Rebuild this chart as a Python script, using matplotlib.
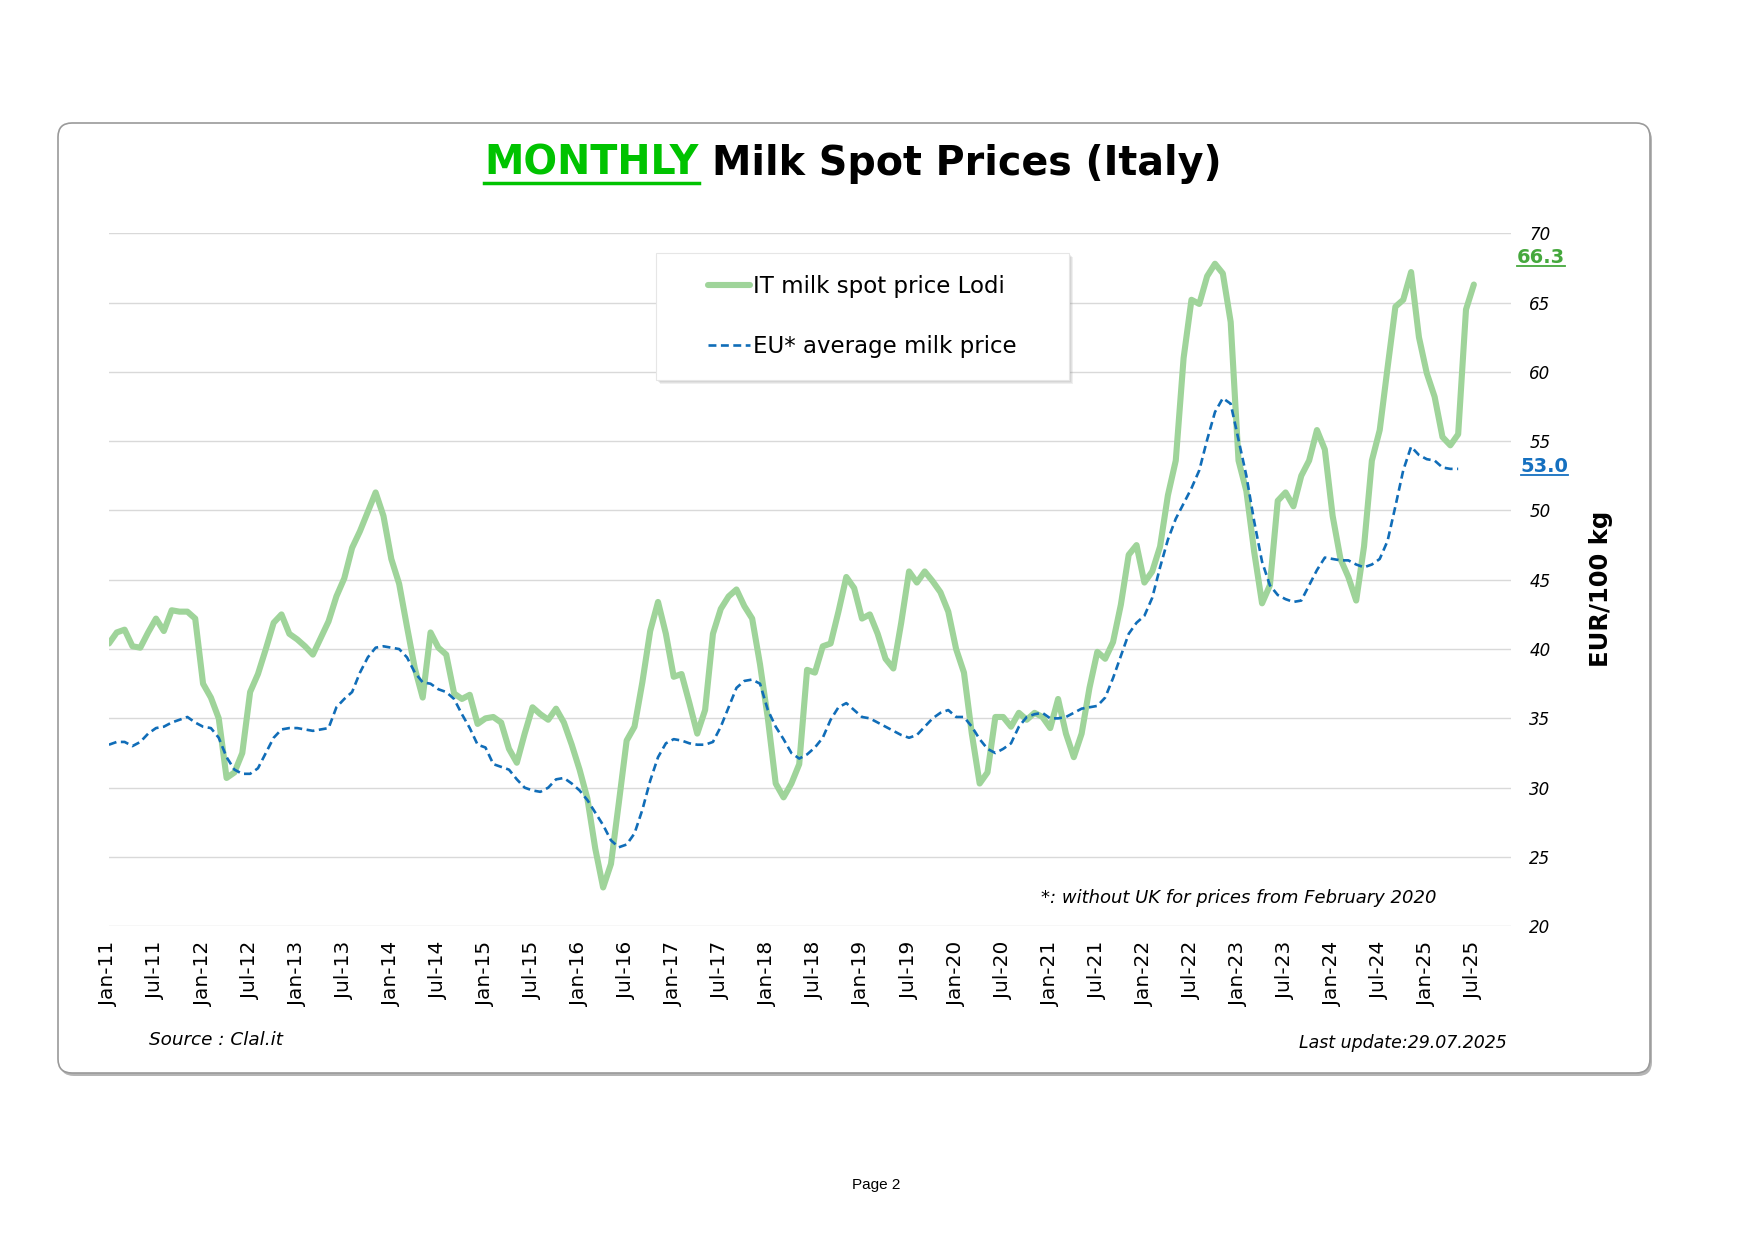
import numpy as np
import pandas as pd
import matplotlib
matplotlib.use('Agg')
import matplotlib.pyplot as plt
from matplotlib.patches import FancyBboxPatch, Rectangle
from matplotlib.lines import Line2D
from matplotlib.transforms import IdentityTransform

plt.rcParams['font.family'] = ['DejaVu Sans']

# Monthly prices, EUR/100 kg, starting Jan-2011
it_spot = [
    40.4, 41.2, 41.4, 40.2, 40.1, 41.2, 42.2, 41.3, 42.8, 42.7, 42.7, 42.2,  # 2011
    37.5, 36.5, 35.0, 30.7, 31.1, 32.5, 36.9, 38.2, 40.0, 41.9, 42.5, 41.1,  # 2012
    40.7, 40.2, 39.6, 40.8, 42.0, 43.8, 45.1, 47.3, 48.5, 49.9, 51.3, 49.6,  # 2013
    46.5, 44.7, 41.6, 38.6, 36.5, 41.2, 40.1, 39.6, 36.8, 36.4, 36.7, 34.6,  # 2014
    35.0, 35.1, 34.7, 32.8, 31.8, 33.9, 35.8, 35.3, 34.9, 35.7, 34.7, 33.1,  # 2015
    31.3, 29.2, 25.6, 22.8, 24.5, 28.9, 33.4, 34.4, 37.6, 41.3, 43.4, 41.1,  # 2016
    38.0, 38.2, 36.1, 33.9, 35.6, 41.1, 42.9, 43.8, 44.3, 43.1, 42.2, 38.9,  # 2017
    35.0, 30.3, 29.3, 30.3, 31.7, 38.5, 38.3, 40.2, 40.4, 42.7, 45.2, 44.4,  # 2018
    42.2, 42.5, 41.1, 39.3, 38.6, 41.9, 45.6, 44.8, 45.6, 44.9, 44.1, 42.7,  # 2019
    40.0, 38.3, 33.9, 30.3, 31.1, 35.1, 35.1, 34.4, 35.4, 34.9, 35.4, 35.1,  # 2020
    34.3, 36.4, 33.9, 32.2, 33.9, 37.2, 39.8, 39.3, 40.5, 43.2, 46.8, 47.5,  # 2021
    44.8, 45.6, 47.4, 51.1, 53.6, 61.0, 65.2, 64.9, 66.9, 67.8, 67.1, 63.6,  # 2022
    53.6, 51.4, 47.0, 43.3, 44.6, 50.7, 51.3, 50.3, 52.5, 53.6, 55.8, 54.4,  # 2023
    49.6, 46.5, 45.2, 43.5, 47.4, 53.6, 55.8, 60.3, 64.7, 65.2, 67.2, 62.5,  # 2024
    59.9, 58.2, 55.3, 54.7, 55.5, 64.5, 66.3,                                # 2025
]

eu_avg = [
    33.1, 33.3, 33.3, 33.0, 33.3, 33.9, 34.3, 34.4, 34.7, 34.9, 35.1, 34.7,  # 2011
    34.4, 34.3, 33.6, 32.2, 31.3, 31.0, 31.0, 31.4, 32.5, 33.6, 34.2, 34.3,  # 2012
    34.3, 34.2, 34.1, 34.2, 34.3, 35.8, 36.4, 36.9, 38.3, 39.4, 40.1, 40.2,  # 2013
    40.1, 40.0, 39.4, 38.3, 37.6, 37.5, 37.1, 36.9, 36.4, 35.3, 34.3, 33.1,  # 2014
    32.9, 31.7, 31.5, 31.3, 30.6, 30.0, 29.8, 29.7, 30.0, 30.6, 30.7, 30.3,  # 2015
    29.8, 29.1, 28.2, 27.3, 26.2, 25.7, 25.9, 26.7, 28.4, 30.5, 32.2, 33.2,  # 2016
    33.5, 33.4, 33.2, 33.1, 33.1, 33.3, 34.4, 35.8, 37.2, 37.7, 37.8, 37.5,  # 2017
    35.6, 34.4, 33.5, 32.5, 32.1, 32.4, 32.9, 33.6, 34.9, 35.8, 36.1, 35.6,  # 2018
    35.1, 35.0, 34.7, 34.4, 34.1, 33.8, 33.6, 33.8, 34.4, 35.0, 35.4, 35.6,  # 2019
    35.1, 35.1, 34.4, 33.5, 32.8, 32.5, 32.8, 33.2, 34.4, 35.1, 35.3, 35.4,  # 2020
    35.0, 35.0, 35.1, 35.4, 35.7, 35.8, 35.9, 36.5, 37.9, 39.5, 41.1, 41.9,  # 2021
    42.4, 43.7, 45.9, 47.9, 49.4, 50.5, 51.6, 52.9, 55.1, 57.1, 58.1, 57.7,  # 2022
    55.1, 52.5, 49.2, 46.3, 44.6, 43.9, 43.6, 43.4, 43.5, 44.6, 45.7, 46.6,  # 2023
    46.5, 46.4, 46.4, 46.1, 45.9, 46.1, 46.5, 47.8, 50.3, 52.9, 54.6, 54.0,  # 2024
    53.7, 53.6, 53.1, 53.0, 53.0,                                            # 2025
]

months = pd.period_range('2011-01', periods=len(it_spot), freq='M')
month_labels = [m.strftime('%b-%y') for m in months]
y_ticks = list(range(20, 71, 5))

GREEN = '#9fd49a'
BLUE = '#106db8'

fig = plt.figure(figsize=(17.54, 12.4), dpi=100)

# outer rounded frame with a little shadow
shadow = FancyBboxPatch((60, 164), 1592, 950, boxstyle='round,pad=0,rounding_size=14',
                        transform=IdentityTransform(), fc='#b5b5b5', ec='none', zorder=-3)
frame = FancyBboxPatch((58, 167), 1592, 950, boxstyle='round,pad=0,rounding_size=14',
                       transform=IdentityTransform(), fc='white', ec='#9a9a9a', lw=1.2, zorder=-2)
fig.add_artist(shadow)
fig.add_artist(frame)

ax = fig.add_axes([0.0621, 0.2530, 0.7992, 0.5589])
ax.set_facecolor('none')

x_it = np.arange(len(it_spot))
x_eu = np.arange(len(eu_avg))
ax.plot(x_it, it_spot, color=GREEN, lw=4.4, solid_capstyle='round', solid_joinstyle='round',
        label='IT milk spot price Lodi', zorder=3)
ax.plot(x_eu, eu_avg, color=BLUE, lw=1.9, linestyle=(0, (3, 1.7)),
        label='EU* average milk price', zorder=4)

ax.set_xlim(0, 178.7)
ax.set_ylim(20, 70)
ax.set_yticks(y_ticks)
ax.set_yticklabels([str(v) for v in y_ticks], fontstyle='italic', fontsize=12)
ax.yaxis.tick_right()
ax.tick_params(axis='y', length=0, pad=13.4)
ax.set_xticks(x_it[::6])
ax.set_xticklabels(month_labels[::6], rotation=90, fontsize=14.5)
ax.tick_params(axis='x', length=0, pad=11)
ax.grid(axis='y', color='#d9d9d9', lw=1)
ax.set_axisbelow(True)
for s in ax.spines.values():
    s.set_visible(False)

fig.text(0.9128, 0.525, 'EUR/100 kg', rotation=90, fontsize=17.5, fontweight='bold',
         ha='center', va='center')

# legend box with shadow
for k in range(4):
    fig.add_artist(Rectangle((656 + k + 1, 860 - k - 1), 413, 127, transform=IdentityTransform(),
                             fc='#888888', ec='none', alpha=0.13, zorder=2))
fig.add_artist(Rectangle((656, 860), 413, 127, transform=IdentityTransform(),
                         fc='white', ec='#e6e6e6', lw=0.8, zorder=2.5))
fig.legend(*ax.get_legend_handles_labels(), loc='center', bbox_to_anchor=(0.4917, 0.7448),
           frameon=False, fontsize=16.5, handlelength=1.8, handletextpad=0.15, labelspacing=1.6)

# last values next to the axis
lab_it = fig.text(0.865, 0.7927, f'{it_spot[-1]:.1f}', color='#45a83d', fontsize=14,
                  fontweight='bold', ha='left', va='center')
lab_eu = fig.text(0.8669, 0.624, f'{eu_avg[-1]:.1f}', color='#1570c0', fontsize=14,
                  fontweight='bold', ha='left', va='center')

# title: green MONTHLY + black rest
title_y = 0.868
t1 = fig.text(0, title_y, 'MONTHLY', color='#00c300', fontsize=28.5, fontweight='bold',
              ha='left', va='center')
t2 = fig.text(0, title_y, 'Milk Spot Prices (Italy)', color='black', fontsize=28.5,
              fontweight='bold', ha='left', va='center')

fig.text(0.819, 0.276, '*: without UK for prices from February 2020', fontsize=13,
         fontstyle='italic', ha='right', va='center')
fig.text(0.0848, 0.1615, 'Source : Clal.it', fontsize=13.2, fontstyle='italic',
         ha='left', va='center')
fig.text(0.859, 0.159, 'Last update:29.07.2025', fontsize=12.5, fontstyle='italic',
         ha='right', va='center')
fig.text(0.4997, 0.044, 'Page 2', fontsize=11, family='Liberation Sans', ha='center', va='center')

# position title parts and draw underlines
fig.canvas.draw()
r = fig.canvas.get_renderer()
W = fig.bbox.width
w1 = t1.get_window_extent(r).width
w2 = t2.get_window_extent(r).width
gap = 28.5 * 100 / 72 * 0.35
start = 0.4864 * W - (w1 + gap + w2) / 2
t1.set_x(start / W)
t2.set_x((start + w1 + gap) / W)
fig.canvas.draw()


def underline(txt, color, lw):
    bb = txt.get_window_extent(r)
    y = bb.y0 + 1
    fig.add_artist(Line2D([bb.x0, bb.x1], [y, y], color=color, lw=lw,
                          transform=IdentityTransform()))


underline(t1, '#00c300', 2.5)
underline(lab_it, '#45a83d', 1.3)
underline(lab_eu, '#1570c0', 1.3)

fig.savefig('out.png', dpi=100)
